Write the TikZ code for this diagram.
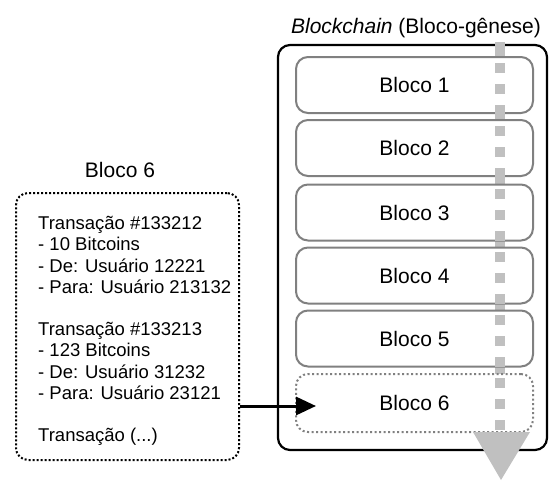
\documentclass[tikz,border=0pt]{standalone}
\usepackage{fontspec}
\setmainfont{Liberation Sans}
\usetikzlibrary{arrows.meta}
\definecolor{lg}{RGB}{192,192,192}
\definecolor{bg}{RGB}{128,128,128}
\tikzset{
  big/.style={font=\fontsize{21}{25}\selectfont},
  small/.style={font=\fontsize{18.5}{21.2}\selectfont},
  blk/.style={draw=bg, line width=2pt, rounded corners=12pt, fill=white,
    minimum width=237pt, minimum height=56pt, big, inner sep=0pt},
  newblk/.style={blk, dash pattern=on 2pt off 2.5pt},
  outer/.style={draw=black, line width=2.2pt, rounded corners=12pt},
  txbox/.style={draw=black, line width=2pt, dash pattern=on 2pt off 2pt,
    rounded corners=12pt, minimum width=223pt, minimum height=267pt, inner sep=0pt},
  link/.style={line width=3pt, -{Triangle[length=20pt,width=18pt]}},
}
\begin{document}
\begin{tikzpicture}[x=1pt,y=-1pt]
\useasboundingbox (0,0) rectangle (549,482);
% outer chain container
\node[outer, minimum width=269pt, minimum height=405pt, inner sep=0pt] (chain) at (412.5,247.5) {};
\node[big, anchor=base] (title) at (416,33.5) {\textit{Blockchain} (Bloco-gênese)};
% solid guide line behind blocks
\draw[lg, line width=10pt] (500,47) -- (500,432);
% blocks
\node[blk] (b1) at (414.5,85) {Bloco 1};
\node[blk] (b2) at (414.5,148) {Bloco 2};
\node[blk] (b3) at (414.5,212.5) {Bloco 3};
\node[blk] (b4) at (414.5,275.5) {Bloco 4};
\node[blk] (b5) at (414.5,338.5) {Bloco 5};
\node[newblk, minimum height=58pt] (b6) at (414.5,403) {Bloco 6};
% dashed guide on top
\draw[lg, line width=10pt, dash pattern=on 10pt off 11pt] (500,42) -- (500,432);
\fill[lg] (473,432) -- (530,432) -- (501,480) -- cycle;
% left block detail
\node[big, anchor=base] (lt) at (120,177.5) {Bloco 6};
\node[txbox] (lb) at (127.5,326.5) {};
\node[small, align=left, anchor=base west, inner sep=0pt] (list) at (38,441.6)
{Transação \#133212\\- 10 Bitcoins\\- De: Usuário 12221\\- Para: Usuário 213132\\[21.2pt]
Transação \#133213\\- 123 Bitcoins\\- De: Usuário 31232\\- Para: Usuário 23121\\[21.2pt]
Transação (...)};
\coordinate (tip) at (316,406);
\draw[link] (lb.east |- tip) -- (tip);
\end{tikzpicture}
\end{document}
